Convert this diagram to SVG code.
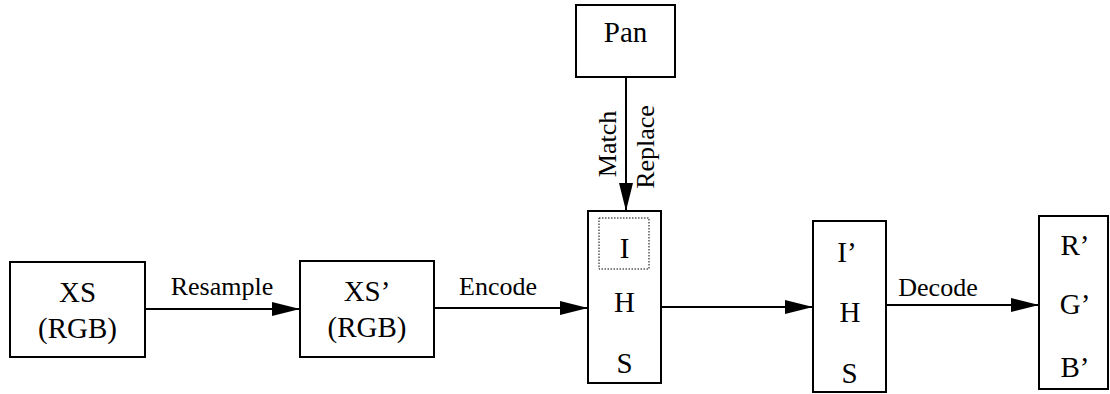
<svg xmlns="http://www.w3.org/2000/svg" width="1110" height="394" viewBox="0 0 1110 394">
  <style>
    .box { fill: #fff; stroke: #000; stroke-width: 2; }
    .sel { fill: none; stroke: #000; stroke-width: 1; stroke-dasharray: 1.5 1.5; }
    .edge { fill: none; stroke: #000; stroke-width: 2; }
  </style>
  <defs>
    <marker id="arrow" markerUnits="userSpaceOnUse" markerWidth="28" markerHeight="14" refX="28" refY="7" orient="auto">
      <path d="M0,0 L28,7 L0,14 Z" fill="#000"/>
    </marker>
  </defs>
  <rect width="1110" height="394" fill="#fff"/>

  <!-- edges with their labels -->
  <g id="connectors" font-family="Liberation Serif, Times New Roman, serif" font-size="26" text-anchor="middle" fill="#000">
    <g id="e-resample">
      <line class="edge" x1="145" y1="309" x2="300" y2="309" marker-end="url(#arrow)"/>
      <text x="222" y="295">Resample</text>
    </g>
    <g id="e-encode">
      <line class="edge" x1="434" y1="308" x2="588" y2="308" marker-end="url(#arrow)"/>
      <text x="498" y="295">Encode</text>
    </g>
    <g id="e-pan">
      <line class="edge" x1="626" y1="77" x2="626" y2="211" marker-end="url(#arrow)"/>
      <text transform="translate(616,144) rotate(-90)">Match</text>
      <text transform="translate(654,147) rotate(-90)">Replace</text>
    </g>
    <g id="e-ihs">
      <line class="edge" x1="661" y1="307" x2="813" y2="307" marker-end="url(#arrow)"/>
    </g>
    <g id="e-decode">
      <line class="edge" x1="886" y1="305" x2="1039" y2="305" marker-end="url(#arrow)"/>
      <text x="938" y="296">Decode</text>
    </g>
  </g>

  <!-- nodes -->
  <g font-family="Liberation Serif, Times New Roman, serif" font-size="29" text-anchor="middle" fill="#000">
    <g id="n-xs">
      <rect class="box" x="10" y="262" width="135" height="95"/>
      <text x="77.5" y="302">XS</text>
      <text x="77.5" y="338">(RGB)</text>
    </g>

    <g id="n-xs2">
      <rect class="box" x="300" y="261" width="134" height="96"/>
      <text x="367" y="301">XS’</text>
      <text x="367" y="337">(RGB)</text>
    </g>

    <g id="n-pan">
      <rect class="box" x="576" y="5" width="99" height="72"/>
      <text x="625.5" y="42">Pan</text>
    </g>

    <g id="n-ihs">
      <rect class="box" x="588" y="211" width="73" height="172"/>
      <rect class="sel" x="599" y="218" width="50" height="51"/>
      <text x="624.5" y="258">I</text>
      <text x="624.5" y="312">H</text>
      <text x="624.5" y="373">S</text>
    </g>

    <g id="n-ihs2">
      <rect class="box" x="813" y="221" width="73" height="171"/>
      <text x="847" y="262">I’</text>
      <text x="850" y="322">H</text>
      <text x="849.5" y="383">S</text>
    </g>

    <g id="n-rgb">
      <rect class="box" x="1039" y="216" width="69" height="173"/>
      <text x="1075" y="255">R’</text>
      <text x="1075" y="314">G’</text>
      <text x="1075" y="377">B’</text>
    </g>
  </g>
</svg>
